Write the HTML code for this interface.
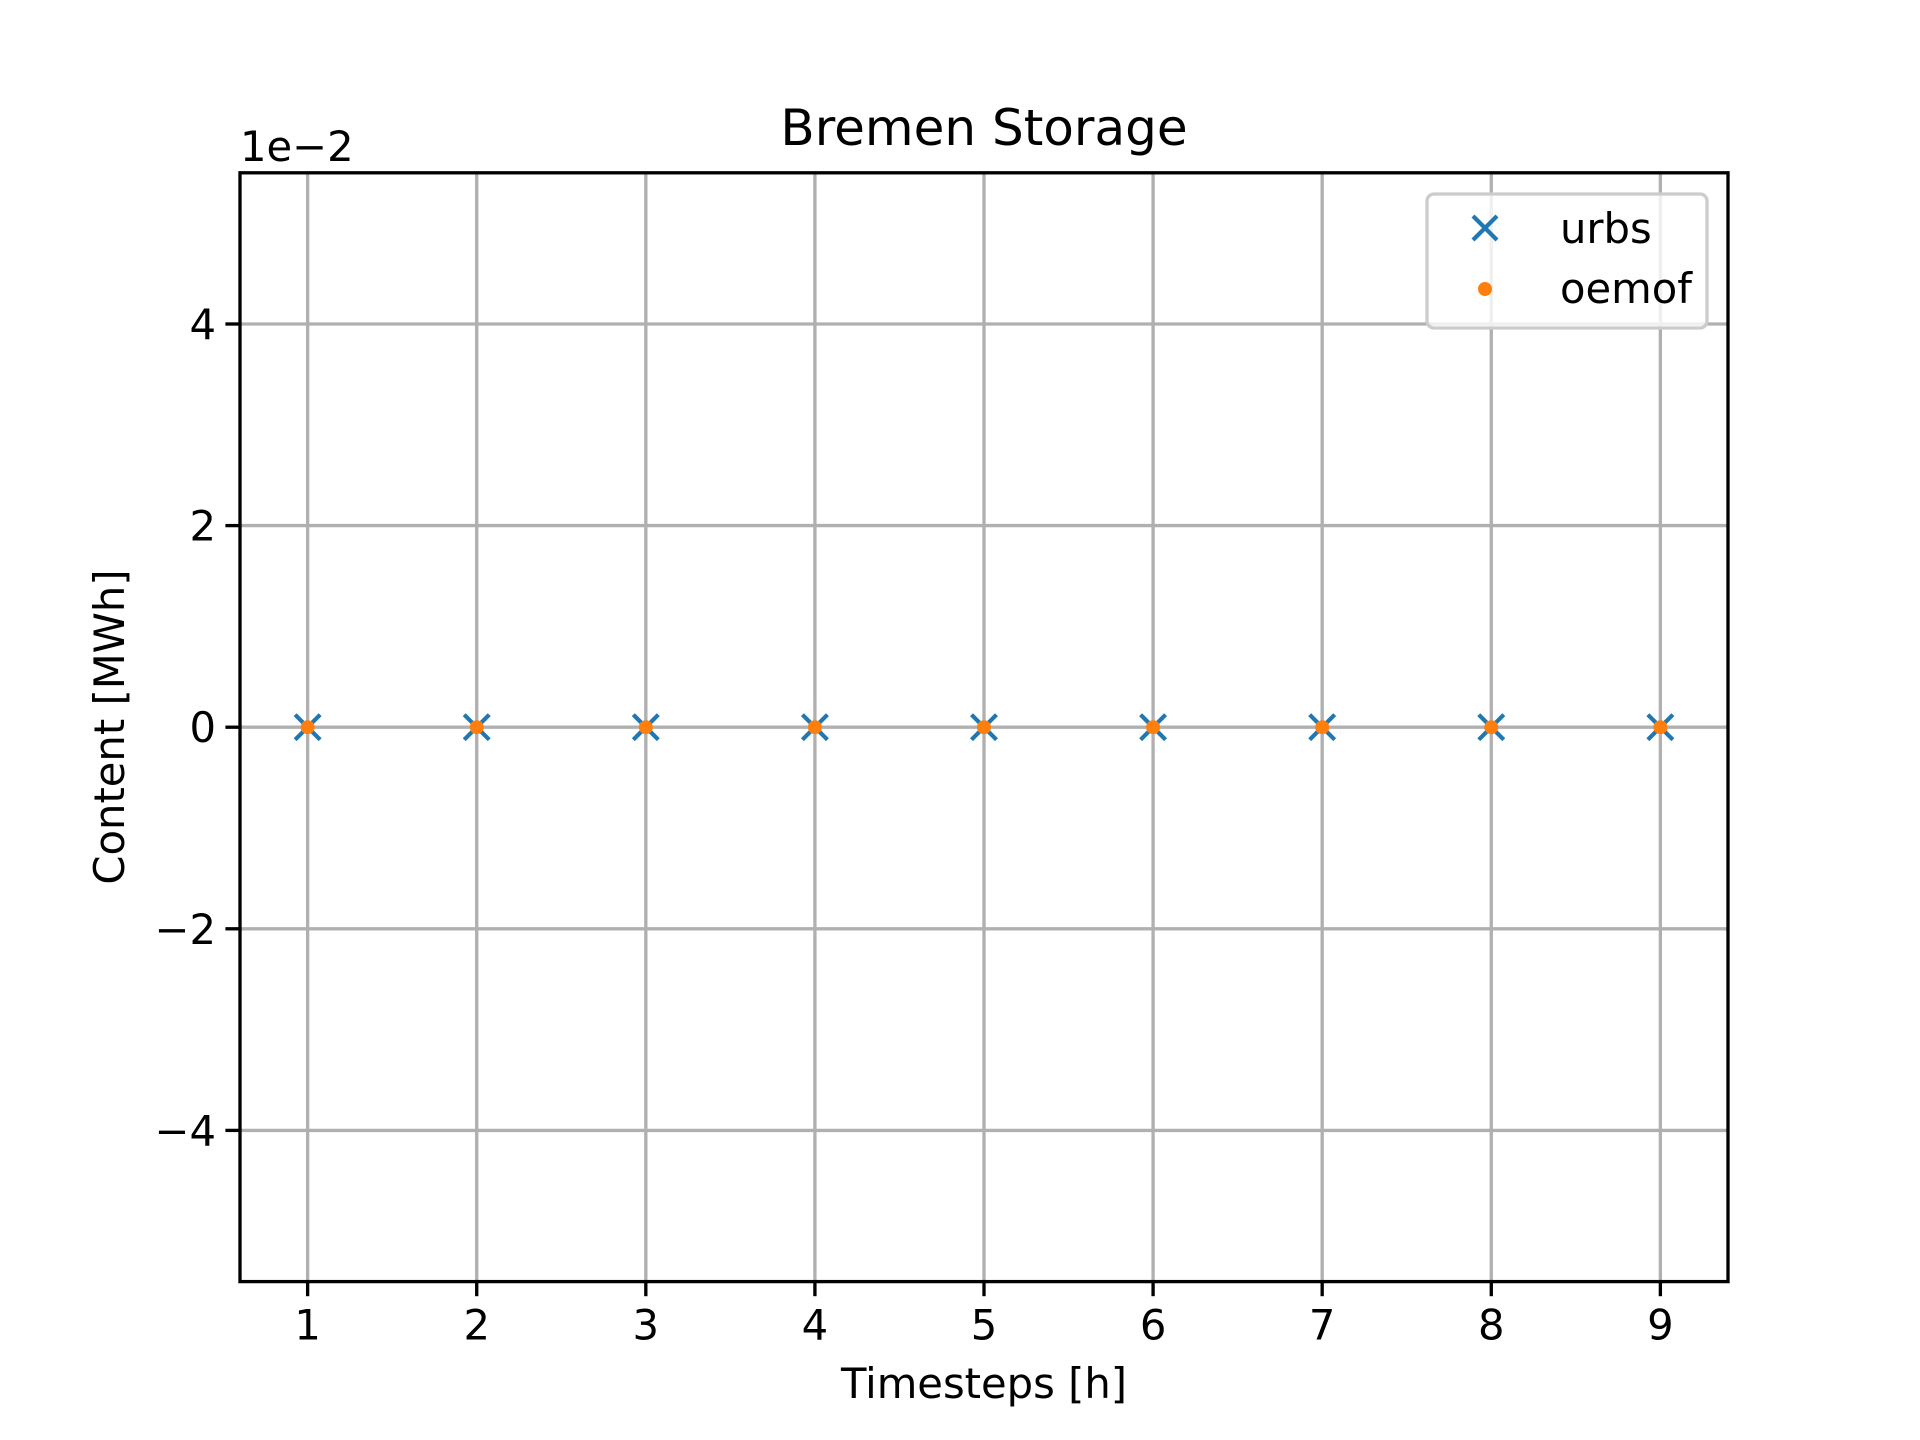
<!DOCTYPE html>
<html><head><meta charset="utf-8"><style>
html,body{margin:0;padding:0;background:#fff;}
svg{display:block;font-family:"DejaVu Sans","Liberation Sans",sans-serif;}
</style></head><body>
<svg id="chart" width="1920" height="1440" viewBox="0 0 1920 1440">
<rect width="1920" height="1440" fill="#fff"/>
<g id="grid"></g>
<g id="marks"></g>
<rect x="240" y="172.8" width="1488" height="1108.8" fill="none" stroke="#000" stroke-width="3.33"/>
<g id="ticks"></g>
<text x="984" y="145" font-size="50" text-anchor="middle">Bremen Storage</text>
<text x="984" y="1398" font-size="41.7" text-anchor="middle">Timesteps [h]</text>
<text x="0" y="0" font-size="41.7" text-anchor="middle" transform="translate(124,727) rotate(-90)">Content [MWh]</text>
<text x="240" y="161" font-size="41.7">1e−2</text>
<g>
<rect x="1427" y="194" width="280" height="134" rx="7" fill="#fff" fill-opacity="0.8" stroke="#ccc" stroke-width="3.33"/>
<g>
<path d="M1473,216 l24,24 M1497,216 l-24,24" stroke="#1f77b4" stroke-width="4.2"/>
<text x="1560" y="243" font-size="41.7">urbs</text>
</g>
<g>
<circle cx="1485" cy="289" r="7" fill="#ff7f0e"/>
<text x="1560" y="303" font-size="41.7">oemof</text>
</g>
</g>
</svg>
<script>
const timesteps = [1,2,3,4,5,6,7,8,9];
const urbsValues = [0,0,0,0,0,0,0,0,0];
const oemofValues = [0,0,0,0,0,0,0,0,0];
const xTicks = [1,2,3,4,5,6,7,8,9];
const yTicks = [-4,-2,0,2,4];
const yTickLabels = ["−4","−2","0","2","4"];

const L=240,R=1728,T=172.8,B=1281.6;
const xmin=0.6,xmax=9.4,ymin=-5.5,ymax=5.5;
const sx=v=>L+(v-xmin)/(xmax-xmin)*(R-L);
const sy=v=>B-(v-ymin)/(ymax-ymin)*(B-T);
const NS="http://www.w3.org/2000/svg";
const grid=document.getElementById('grid'),ticks=document.getElementById('ticks'),marks=document.getElementById('marks');
function mk(tag,attrs,parent){const e=document.createElementNS(NS,tag);for(const k in attrs)e.setAttribute(k,attrs[k]);parent.appendChild(e);return e;}
xTicks.forEach(t=>{
  const x=sx(t);
  const g=mk('line',{x1:x,x2:x,y1:T,y2:B,stroke:'#b0b0b0','stroke-width':3.33},grid);
  
  
  const tk=mk('line',{x1:x,x2:x,y1:B,y2:B+14.6,stroke:'#000','stroke-width':3.33},ticks);
  
  
  const lb=mk('text',{x:x,y:B+58,'font-size':41.7,'text-anchor':'middle'},ticks);
  lb.textContent=t;
  
  
});
yTicks.forEach((t,i)=>{
  const y=sy(t);
  const g=mk('line',{x1:L,x2:R,y1:y,y2:y,stroke:'#b0b0b0','stroke-width':3.33},grid);
  
  
  const tk=mk('line',{x1:L-14.6,x2:L,y1:y,y2:y,stroke:'#000','stroke-width':3.33},ticks);
  
  
  const lb=mk('text',{x:L-24,y:y+15,'font-size':41.7,'text-anchor':'end'},ticks);
  lb.textContent=yTickLabels[i];
  
  
});
timesteps.forEach((t,i)=>{
  const x=sx(t),y=sy(urbsValues[i]*100),h=12.5;
  const p=mk('path',{d:`M${x-h},${y-h} L${x+h},${y+h} M${x+h},${y-h} L${x-h},${y+h}`,stroke:'#1f77b4','stroke-width':4.2},marks);
  
  
});
timesteps.forEach((t,i)=>{
  const c=mk('circle',{cx:sx(t),cy:sy(oemofValues[i]*100),r:7,fill:'#ff7f0e'},marks);
  
  
});
</script>
</body></html>
